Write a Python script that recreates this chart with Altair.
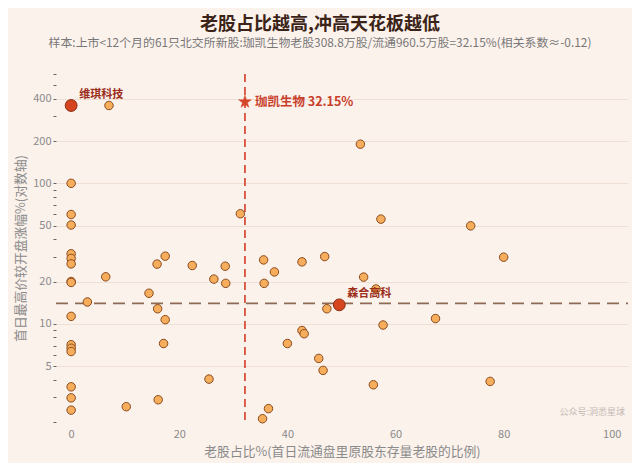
import altair as alt
import pandas as pd

# ---- data ----
old_pct = [0, 0, 0, 0, 0, 0, 0, 0, 0, 0, 0, 0, 0, 0, 0,
           7.0, 6.4, 3.0, 15.9, 17.4, 14.4, 16.0, 17.4, 17.1, 10.2,
           16.1, 22.4, 26.4, 28.5, 28.6, 25.5, 31.3, 35.6, 35.7, 37.6,
           40.0, 36.5, 35.4, 42.7, 46.9, 53.5, 57.3, 73.9, 80.0, 54.1,
           56.4, 47.3, 67.4, 57.7, 42.7, 43.1, 45.8, 46.6, 55.9, 77.5]
gain = [100, 60, 50.5, 31.5, 29.2, 26.7, 20, 19.7, 11.3, 7.1, 6.7, 6.35, 3.56, 2.97, 2.43,
        358, 21.6, 14.3, 26.6, 30.3, 16.5, 12.8, 10.7, 7.24, 2.57,
        2.88, 26, 20.8, 25.7, 19.4, 4.04, 60.7, 28.5, 19.4, 23.4,
        7.24, 2.49, 2.11, 27.6, 30.1, 190, 55.6, 49.8, 29.8, 21.5,
        17.7, 12.8, 10.9, 9.8, 8.96, 8.5, 5.67, 4.66, 3.68, 3.89]

hl_names = ["维琪科技", "森合高科"]
hl_x = [0, 49.6]
hl_y = [358, 13.65]

star_name = ["珈凯生物 32.15%"]
star_x = [32.15]
star_y = [380]

median_gain = [14.0]
ref_pct = [32.15]

major_ticks = [5, 10, 20, 50, 100, 200, 400]
minor_ticks = [2, 3, 4, 6, 7, 8, 9, 30, 40, 60, 70, 80, 90, 300, 500, 600]
x_ticks = [0, 20, 40, 60, 80, 100]

W, H = 572, 348
FONT = "Noto Sans CJK SC"
STAR = ("M0,-1L0.2245,-0.309L0.951,-0.309L0.363,0.118L0.588,0.809L0,0.382"
        "L-0.588,0.809L-0.363,0.118L-0.951,-0.309L-0.2245,-0.309Z")

df = pd.DataFrame({"x": old_pct, "y": gain})
hl = pd.DataFrame({"name": hl_names, "x": hl_x, "y": hl_y})
st = pd.DataFrame({"name": star_name, "x": star_x, "y": star_y})
med = pd.DataFrame({"y": median_gain})
ref = pd.DataFrame({"x": ref_pct})

xscale = alt.Scale(domain=[-2.8, 103], nice=False, zero=False)
yscale = alt.Scale(type="log", domain=[2, 600], nice=False)

all_ticks = sorted(major_ticks + minor_ticks)
major_js = "[" + ",".join(str(v) for v in major_ticks) + "]"

yaxis = alt.Axis(
    values=all_ticks,
    format="d",
    labelExpr=f"indexof({major_js}, datum.value) >= 0 ? datum.label : ''",
    gridOpacity={"condition": {"test": f"indexof({major_js}, datum.value) >= 0", "value": 1}, "value": 0},
    gridColor="#F0DFD5",
    gridWidth=1,
    tickSize=3,
    tickColor="#666666",
    domain=False,
    labelColor="#8a8a8a",
    labelFontSize=11,
    labelFont=FONT,
    labelPadding=2,
    labelOverlap=False,
    title="首日最高价较开盘涨幅%(对数轴)",
    titleColor="#8a8a8a",
    titleFontSize=12.8,
    titleFontWeight="normal",
    titleFont=FONT,
    titlePadding=5,
)
xaxis = alt.Axis(
    values=x_ticks,
    grid=False,
    ticks=False,
    domain=False,
    labelColor="#8a8a8a",
    labelFontSize=11,
    labelFont=FONT,
    labelPadding=6,
    title="老股占比%(首日流通盘里原股东存量老股的比例)",
    titleColor="#8a8a8a",
    titleFontSize=12.8,
    titleFontWeight="normal",
    titleFont=FONT,
    titlePadding=6,
)

points = alt.Chart(df).mark_point(
    shape="circle", filled=True, fill="#F6AE5C", stroke="#8A4A1E", strokeWidth=1, size=72, opacity=1
).encode(
    x=alt.X("x:Q", scale=xscale, axis=xaxis),
    y=alt.Y("y:Q", scale=yscale, axis=yaxis),
)

vline = alt.Chart(ref).mark_rule(color="#D9503F", strokeWidth=1.8, strokeDash=[8, 5]).encode(
    x=alt.X("x:Q", scale=xscale), y=alt.value(0), y2=alt.value(H)
)
hline = alt.Chart(med).mark_rule(color="#8C6A55", strokeWidth=1.8, strokeDash=[12, 7]).encode(
    y=alt.Y("y:Q", scale=yscale), x=alt.value(0), x2=alt.value(W)
)

hl_pts = alt.Chart(hl).mark_point(
    shape="circle", filled=True, fill="#D5451F", stroke="#8E2A12", strokeWidth=1, size=140, opacity=1
).encode(x=alt.X("x:Q", scale=xscale), y=alt.Y("y:Q", scale=yscale))

hl_txt = alt.Chart(hl).mark_text(
    align="left", dx=8, dy=-11, font=FONT, fontSize=11, fontWeight="bold", color="#9B2D1A"
).encode(x=alt.X("x:Q", scale=xscale), y=alt.Y("y:Q", scale=yscale), text="name:N")

star = alt.Chart(st).mark_point(
    shape=STAR, filled=True, fill="#D5452A", stroke="#D5452A", strokeWidth=0.5, size=180, opacity=1
).encode(x=alt.X("x:Q", scale=xscale), y=alt.Y("y:Q", scale=yscale))

star_txt = alt.Chart(st).mark_text(
    align="left", dx=10, dy=0, font=FONT, fontSize=12.5, fontWeight="bold", color="#C8402A"
).encode(x=alt.X("x:Q", scale=xscale), y=alt.Y("y:Q", scale=yscale), text="name:N")

mark_txt = alt.Chart(pd.DataFrame({"t": ["公众号:洞悉星球"]})).mark_text(
    align="right", baseline="middle", font=FONT, fontSize=9, color="#C4BAB4"
).encode(x=alt.value(W - 3), y=alt.value(H - 10), text="t:N")

chart = alt.layer(vline, hline, points, hl_pts, star, hl_txt, star_txt, mark_txt).properties(
    width=W,
    height=H,
    autosize=alt.AutoSizeParams(type="none"),
    padding={"left": 48, "top": 66, "right": 4, "bottom": 41},
    background="#FCF2EC",
    title=alt.TitleParams(
        text="老股占比越高,冲高天花板越低",
        subtitle="样本:上市<12个月的61只北交所新股:珈凯生物老股308.8万股/流通960.5万股=32.15%(相关系数≈-0.12)",
        font=FONT,
        subtitleFont=FONT,
        fontSize=18,
        fontWeight="bold",
        color="#3B2417",
        subtitleFontSize=11.9,
        subtitleColor="#777777",
        subtitlePadding=4,
        anchor="middle",
        dx=-22,
        offset=19,
    ),
).configure_view(stroke=None)

chart.save("out.html", embed_options={"renderer": "svg", "actions": False})
